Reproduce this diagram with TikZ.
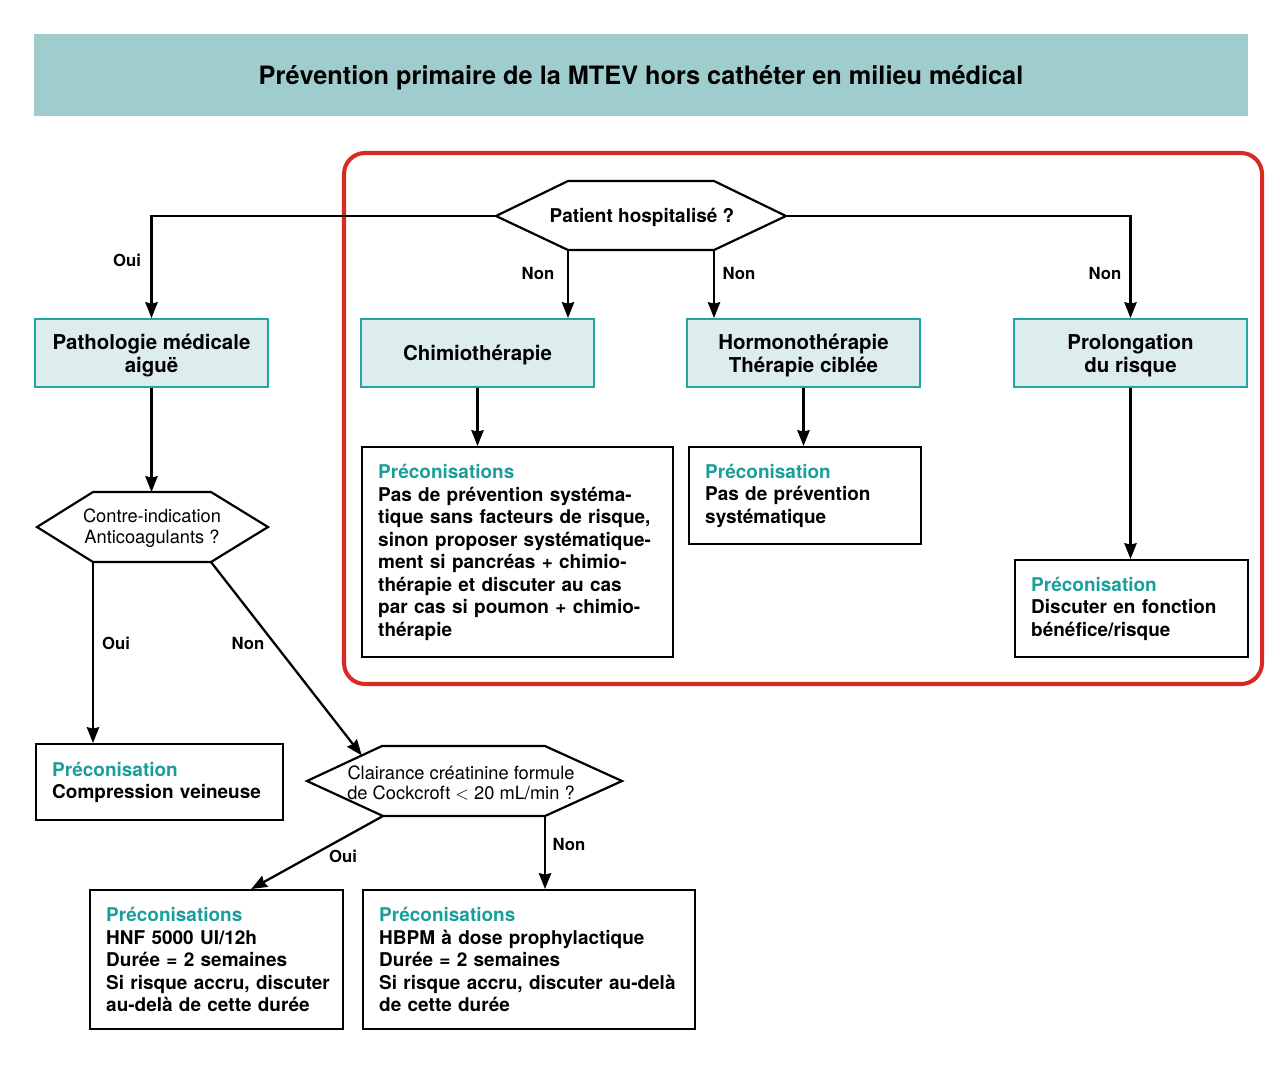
\documentclass[tikz,border=0pt]{standalone}
\usepackage{fontspec}
\setmainfont{TeX Gyre Heros}
\usetikzlibrary{arrows.meta,calc}
\definecolor{bandeau}{RGB}{159,205,206}
\definecolor{fondbleu}{RGB}{221,237,237}
\definecolor{bordbleu}{RGB}{40,163,163}
\definecolor{titrebleu}{RGB}{26,158,154}
\definecolor{cadrerouge}{RGB}{214,42,34}
\tikzset{
  ligne/.style={line width=1.25pt},
  fleche/.style={line width=1.3pt,-{Stealth[length=9pt,width=7pt,inset=0.8pt]}},
  etape/.style={draw=bordbleu,fill=fondbleu,line width=1.1pt,minimum width=4.66cm,minimum height=1.36cm,
    align=center,text depth=0pt,font=\fontsize{11.65}{13}\selectfont\bfseries},
  preco/.style={draw,line width=1.4pt,anchor=north west,align=left,inner xsep=0.32cm,inner ysep=0pt,
    font=\fontsize{10.8}{12.8}\selectfont\bfseries},
  question/.style={align=center,font=\fontsize{10.4}{11.6}\selectfont},
  lbl/.style={font=\fontsize{9.5}{11}\selectfont\bfseries}
}
\newcommand{\ptitre}[1]{\textcolor{titrebleu}{#1}}
\begin{document}
\begin{tikzpicture}[x=0.02cm,y=-0.02cm]
\useasboundingbox (0,0) rectangle (1280,1086);
% bandeau
\node[fill=bandeau,minimum width=24.28cm,minimum height=1.64cm,text depth=0pt,font=\fontsize{14.4}{16}\selectfont\bfseries] (titre) at (641,75) {Prévention primaire de la MTEV hors cathéter en milieu médical};
\draw[cadrerouge,line width=2.3pt,rounded corners=0.42cm] (344,153) rectangle (1262,684);
% losanges
\draw[ligne] (568,181) -- (714,181) -- (786,216) coordinate (hospE) -- (714,250) coordinate (hospSE)
  -- (568,250) coordinate (hospSW) -- (496,216) coordinate (hospW) -- cycle;
\node[question,font=\fontsize{10.8}{12}\selectfont\bfseries] (hosp) at (642,217) {Patient hospitalisé ?};
\draw[ligne] (93,492) coordinate (ciNW) -- (211,492) -- (268,527) -- (211,562) coordinate (ciSE)
  -- (93,562) coordinate (ciSW) -- (37,527) -- cycle;
\node[question] (ci) at (152,528) {Contre-indication\\Anticoagulants ?};
\draw[ligne] (382,746) coordinate (clNW) -- (545,746) -- (622,781) -- (545,816) coordinate (clSE)
  -- (383,816) coordinate (clSW) -- (307,781) coordinate (clW) -- cycle;
\node[question] (cl) at (461,783) {Clairance créatinine formule\\de Cockcroft $<$ 20 mL/min ?};
% etapes
\node[etape] (patho) at (151.5,353) {Pathologie médicale\\aiguë};
\node[etape] (chimio) at (477.5,353) {Chimiothérapie};
\node[etape] (hormono) at (803.5,353) {Hormonothérapie\\Thérapie ciblée};
\node[etape] (prolong) at (1130.5,353) {Prolongation\\du risque};
% preconisations
\node[preco,text width=5.58cm,minimum height=4.2cm] (pchimio) at (361,446) {\ptitre{Préconisations}\\Pas de prévention systéma-\\tique sans facteurs de risque,\\sinon proposer systématique-\\ment si pancréas + chimio-\\thérapie et discuter au cas\\par cas si poumon + chimio-\\thérapie};
\node[preco,text width=4cm,minimum height=1.94cm] (phormono) at (688,446) {\ptitre{Préconisation}\\Pas de prévention\\systématique};
\node[preco,text width=4.02cm,minimum height=1.94cm] (pprolong) at (1014,559) {\ptitre{Préconisation}\\Discuter en fonction\\bénéfice/risque};
\node[preco,text width=4.3cm,minimum height=1.52cm] (pcomp) at (35,743) {\ptitre{Préconisation}\\Compression veineuse};
\node[preco,text width=4.42cm,minimum height=2.78cm] (phnf) at (89,889) {\ptitre{Préconisations}\\HNF 5000 UI/12h\\Durée = 2 semaines\\\mbox{Si risque accru, discuter}\\au-delà de cette durée};
\node[preco,text width=6cm,minimum height=2.78cm] (phbpm) at (362,889) {\ptitre{Préconisations}\\HBPM à dose prophylactique\\Durée = 2 semaines\\Si risque accru, discuter au-delà\\de cette durée};
% fleches
\draw[fleche] (hospW) -| (patho.north);
\draw[fleche] (hospE) -| (prolong.north);
\draw[fleche] (hospSW) -- (hospSW |- chimio.north);
\draw[fleche] (hospSE) -- (hospSE |- hormono.north);
\draw[fleche] (chimio.south) -- (chimio.south |- pchimio.north);
\draw[fleche] (hormono.south) -- (hormono.south |- phormono.north);
\draw[fleche] (prolong.south) -- (prolong.south |- pprolong.north);
\draw[fleche] (patho.south) -- (patho.south |- ciNW);
\draw[fleche] (ciSW) -- (ciSW |- pcomp.north);
\draw[fleche] (ciSE) -- ($(clW)!0.73!(clNW)$);
\draw[fleche] (clSW) -- ([xshift=0.69cm]phnf.north);
\draw[fleche] (clSE) -- (clSE |- phbpm.north);
% etiquettes
\node[lbl] (o1) at (127,260) {Oui};
\node[lbl] (n1) at (538,273) {Non};
\node[lbl] (n2) at (739,273) {Non};
\node[lbl] (n3) at (1105,273) {Non};
\node[lbl] (o2) at (116,643) {Oui};
\node[lbl] (n4) at (248,643) {Non};
\node[lbl] (o3) at (343,856) {Oui};
\node[lbl] (n5) at (569,844) {Non};
\end{tikzpicture}
\end{document}
